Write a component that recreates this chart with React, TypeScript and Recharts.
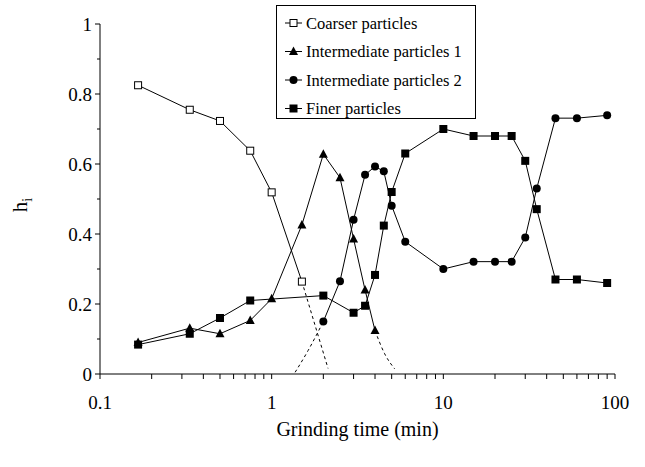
import React from "react";
import { LineChart, Line, XAxis, YAxis, Legend } from "recharts";

// grinding times (min) and h_i values
const coarserTime = [1 / 6, 1 / 3, 0.5, 0.75, 1, 1.5];
const coarserH = [0.825, 0.755, 0.723, 0.638, 0.519, 0.264];

const inter1Time = [1 / 6, 1 / 3, 0.5, 0.75, 1, 1.5, 2, 2.5, 3, 3.5, 4];
const inter1H = [0.09, 0.131, 0.115, 0.153, 0.215, 0.426, 0.628, 0.561, 0.386, 0.24, 0.124];

const inter2Time = [2, 2.5, 3, 3.5, 4, 4.5, 5, 6, 10, 15, 20, 25, 30, 35, 45, 60, 90];
const inter2H = [0.15, 0.265, 0.441, 0.569, 0.593, 0.579, 0.481, 0.378, 0.3, 0.321, 0.321, 0.321, 0.39, 0.53, 0.731, 0.731, 0.739];

const finerTime = [1 / 6, 1 / 3, 0.5, 0.75, 2, 3, 3.5, 4, 4.5, 5, 6, 10, 15, 20, 25, 30, 35, 45, 60, 90];
const finerH = [0.084, 0.115, 0.16, 0.21, 0.224, 0.175, 0.195, 0.283, 0.424, 0.52, 0.63, 0.7, 0.68, 0.68, 0.68, 0.609, 0.471, 0.27, 0.27, 0.26];

// dashed extrapolations drawn by hand in the original
const coarserTailTime = [1.5, 2.13];
const coarserTailH = [0.264, 0.016];
const inter1TailTime = [4, 4.55, 5.2];
const inter1TailH = [0.124, 0.058, 0.015];
const inter2LeadTime = [1.37, 1.63, 2];
const inter2LeadH = [0.005, 0.067, 0.15];

const xTicks = [
  0.1, 0.2, 0.3, 0.4, 0.5, 0.6, 0.7, 0.8, 0.9,
  1, 2, 3, 4, 5, 6, 7, 8, 9,
  10, 20, 30, 40, 50, 60, 70, 80, 90, 100,
];
const xLabels = [0.1, 1, 10, 100];
const yTicks = [0, 0.1, 0.2, 0.3, 0.4, 0.5, 0.6, 0.7, 0.8, 0.9, 1];

const seriesNames = [
  "Coarser particles",
  "Intermediate particles 1",
  "Intermediate particles 2",
  "Finer particles",
];
const seriesMarkers = ["openSquare", "triangle", "circle", "square"];

const FONT = "'Liberation Serif', 'Times New Roman', serif";

const pair = (ts: number[], hs: number[]) => ts.map((t, i) => ({ t, h: hs[i] }));

function Marker({ kind, cx, cy }: { kind: string; cx: number; cy: number }) {
  if (kind === "openSquare")
    return <rect x={cx - 3.5} y={cy - 3.5} width={7} height={7} fill="#fff" stroke="#000" strokeWidth={1} />;
  if (kind === "square")
    return <rect x={cx - 4} y={cy - 4} width={8} height={8} fill="#000" />;
  if (kind === "circle") return <circle cx={cx} cy={cy} r={4} fill="#000" />;
  return (
    <polygon
      points={`${cx - 4.5},${cy + 3.5} ${cx + 4.5},${cy + 3.5} ${cx},${cy - 5}`}
      fill="#000"
    />
  );
}

const dotOf = (kind: string) => (p: any) => (
  <Marker key={`${kind}-${p.index}`} kind={kind} cx={p.cx} cy={p.cy} />
);

function XTick({ x, y, payload }: any) {
  const v = payload.value;
  const show = xLabels.some((l) => Math.abs(l - v) < 1e-9);
  return (
    <g>
      <line x1={x} x2={x} y1={y} y2={y + 5} stroke="#000" />
      {show && (
        <text x={x} y={y + 35} textAnchor="middle" fontFamily={FONT} fontSize={19} fill="#000">
          {v}
        </text>
      )}
    </g>
  );
}

function YTick({ x, y, payload }: any) {
  const v = payload.value;
  const major = Math.round(v * 10) % 2 === 0;
  return (
    <g>
      <line x1={x - (major ? 5 : 3)} x2={x} y1={y} y2={y} stroke="#000" />
      {major && (
        <text x={x - 8} y={y} dy="0.35em" textAnchor="end" fontFamily={FONT} fontSize={19} fill="#000">
          {String(+v.toFixed(1))}
        </text>
      )}
    </g>
  );
}

function YTitle({ viewBox }: any) {
  const cx = viewBox.x - 20;
  const cy = viewBox.y + viewBox.height / 2 + 6;
  return (
    <text
      transform={`translate(${cx},${cy}) rotate(-90)`}
      textAnchor="middle"
      dy="0.35em"
      fontFamily={FONT}
      fontSize={21}
      fill="#000"
    >
      h<tspan dy={5} fontSize={14}>i</tspan>
    </text>
  );
}

function LegendBox() {
  return (
    <svg width={200} height={114} style={{ display: "block" }}>
      <rect x={0.5} y={0.5} width={199} height={113} fill="#fff" stroke="#000" />
      {seriesNames.map((name, i) => {
        const cy = 18 + i * 28.5;
        return (
          <g key={name}>
            <line x1={9} x2={26} y1={cy} y2={cy} stroke="#000" />
            <Marker kind={seriesMarkers[i]} cx={17.5} cy={cy} />
            <text x={30} y={cy} dy="0.35em" fontFamily={FONT} fontSize={16.5} fill="#000">
              {name}
            </text>
          </g>
        );
      })}
    </svg>
  );
}

export default function App() {
  return (
    <div style={{ position: "absolute", left: 0, top: 0, width: 645, height: 467, background: "#fff" }}>
      <LineChart width={645} height={467} margin={{ top: 24, right: 30, bottom: 33, left: 40 }}>
        <XAxis
          type="number"
          dataKey="t"
          scale="log"
          domain={[0.1, 100]}
          ticks={xTicks}
          interval={0}
          allowDataOverflow
          height={60}
          tickSize={0}
          tickMargin={0}
          tickLine={false}
          tick={<XTick />}
          stroke="#000"
          label={{
            value: "Grinding time (min)",
            position: "insideTop",
            offset: 48,
            fontFamily: FONT,
            fontSize: 20,
            fill: "#000",
          }}
        />
        <YAxis
          type="number"
          dataKey="h"
          domain={[0, 1]}
          ticks={yTicks}
          interval={0}
          width={60}
          tickSize={0}
          tickMargin={0}
          tickLine={false}
          tick={<YTick />}
          stroke="#000"
          label={<YTitle />}
        />
        <Legend
          layout="vertical"
          align="center"
          verticalAlign="middle"
          content={<LegendBox />}
          wrapperStyle={{ left: 276, top: 5, width: 200 }}
        />
        <Line data={pair(coarserTailTime, coarserTailH)} dataKey="h" type="linear" stroke="#000" strokeWidth={1} strokeDasharray="3 3" dot={false} legendType="none" isAnimationActive={false} />
        <Line data={pair(inter1TailTime, inter1TailH)} dataKey="h" type="monotone" stroke="#000" strokeWidth={1} strokeDasharray="3 3" dot={false} legendType="none" isAnimationActive={false} />
        <Line data={pair(inter2LeadTime, inter2LeadH)} dataKey="h" type="monotone" stroke="#000" strokeWidth={1} strokeDasharray="3 3" dot={false} legendType="none" isAnimationActive={false} />
        <Line data={pair(coarserTime, coarserH)} dataKey="h" name={seriesNames[0]} type="linear" stroke="#000" strokeWidth={1} dot={dotOf("openSquare")} isAnimationActive={false} />
        <Line data={pair(inter1Time, inter1H)} dataKey="h" name={seriesNames[1]} type="linear" stroke="#000" strokeWidth={1} dot={dotOf("triangle")} isAnimationActive={false} />
        <Line data={pair(inter2Time, inter2H)} dataKey="h" name={seriesNames[2]} type="linear" stroke="#000" strokeWidth={1} dot={dotOf("circle")} isAnimationActive={false} />
        <Line data={pair(finerTime, finerH)} dataKey="h" name={seriesNames[3]} type="linear" stroke="#000" strokeWidth={1} dot={dotOf("square")} isAnimationActive={false} />
      </LineChart>
    </div>
  );
}
